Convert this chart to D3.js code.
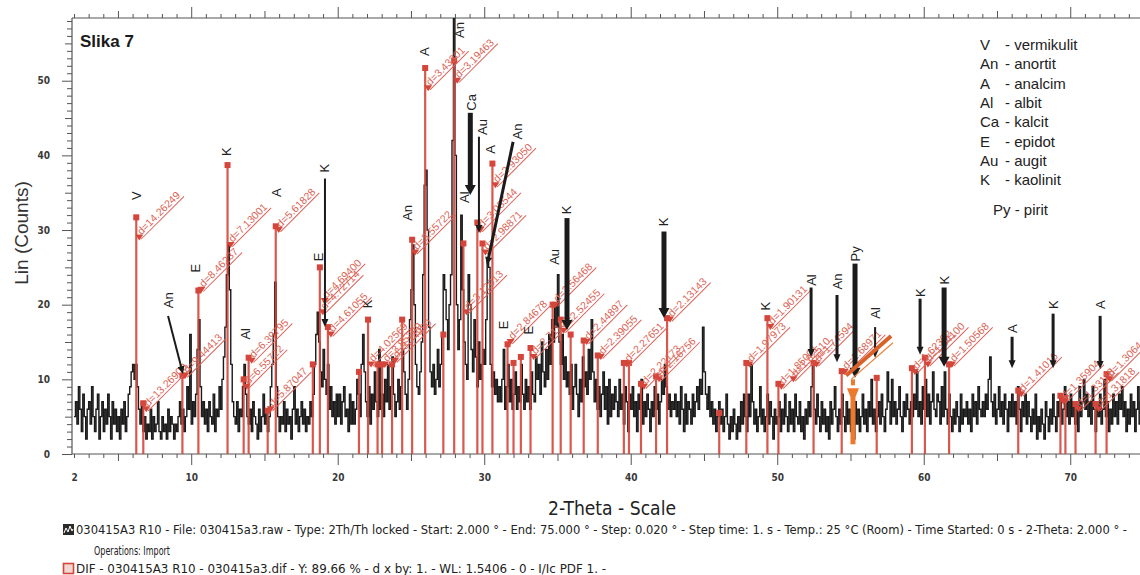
<!DOCTYPE html>
<html>
<head>
<meta charset="utf-8">
<style>
     body {
          margin: 0;
          background: #fff;
          font-family: "Liberation Sans", Arial, sans-serif;
     }
     .axis text {
          font-family: "Liberation Sans Narrow", "DejaVu Sans Condensed", sans-serif;
          font-size: 10px;
          font-weight: bold;
          fill: #3a3a3a;
     }
     .axis line {
          stroke: #555;
     }
     .axis .domain {
          display: none;
     }
     .frame {
          stroke: #555;
          stroke-width: 1.2;
     }
     .pattern {
          fill: none;
          stroke: #1a1a1a;
          stroke-width: 1.4;
     }
     .stick {
          stroke: #d4463b;
          stroke-width: 2.2;
     }
     .stick-top {
          fill: #d4463b;
     }
     .dtext {
          font-size: 10.5px;
          fill: #dc6456;
     }
     .dline {
          stroke: #dc6456;
          stroke-width: 1;
     }
     .anno {
          font-size: 13px;
          fill: #222;
     }
     .legend {
          font-size: 15px;
          fill: #222;
     }
     .caption {
          font-family: "Liberation Sans Narrow", "DejaVu Sans Condensed", sans-serif;
          font-size: 12px;
          fill: #222;
     }
</style>
</head>
<body>
<script src="https://d3js.org/d3.v7.min.js"></script>
<script>

     // measured pattern, 2-theta from 2.0 in steps of 0.1 degree
     var thetaStart = 2.0, thetaStep = 0.1;

     var counts02 = [5,7,4,9,6,3,8,5,2,6, 7,4,9,5,3,6,8,2,5,7, 3,6,4,8,5,2,7,4,6,3, 5,2,6,4,7,3,5,8,9,11,
                     12,10,12,9,6,4,7,3,5,2, 4,3,6,2,5,3,4,7,3,2, 5,3,4,2,6,3,5,4,2,4, 3,5,7,4,6,3,5,9,6,16];
     var counts10 = [4,7,5,8,14,18,9,5,7,4, 6,3,7,5,4,8,3,6,5,9, 6,10,13,17,24,28,22,12,7,5, 4,7,3,6,5,9,12,8,5,4,
                     6,3,7,5,4,2,6,3,5,8, 4,6,3,5,9,12,16,23,9,5, 3,5,4,7,3,6,4,5,2,6, 9,4,6,3,5,7,4,6,3,5,
                     4,7,5,8,12,16,19,15,11,9, 14,10,8,12,6,9,5,7,4,8];
     var counts20 = [5,8,4,7,9,5,6,3,8,4, 7,4,6,10,8,5,12,16,11,7, 5,9,4,8,6,11,7,5,14,6, 8,5,10,7,12,6,9,13,8,5,
                     7,10,6,9,14,11,8,6,10,18, 22,28,20,12,9,8,11,15,24,36, 38,30,17,11,9,12,8,10,14,9,
                     12,16,24,22,18,14,20,24,42,62, 40,20,14,18,32,22,15,12,10,24, 20,14,11,18,13,9,15,10,12,14];
     var counts30 = [12,18,26,25,12,9,11,8,10,7, 9,7,10,14,6,9,12,7,10,6, 8,11,6,9,7,12,8,6,10,7, 9,6,11,8,7,13,10,12,8,15,
                     11,9,14,10,16,12,18,15,20,17, 24,15,12,16,10,13,9,11,8,12, 6,9,12,8,5,10,7,13,9,11,
                     8,14,10,18,11,7,10,6,9,5, 8,11,6,9,4,10,5,8,6,9, 7,5,10,6,8,4,9,7,3,8];
     var counts40 = [6,9,5,7,3,8,6,10,4,7, 5,8,6,3,7,5,9,6,8,4, 7,10,8,12,9,6,8,5,7,6, 8,5,7,4,9,6,3,8,4,7,
                     6,4,8,5,7,9,6,10,8,17, 11,8,6,9,5,7,4,6,3,5, 7,4,6,3,5,8,4,2,5,3, 6,4,2,5,3,7,4,8,5,3,
                     8,5,12,7,4,6,3,5,9,4, 6,3,5,8,4,7,5,2,6,4];
     var counts50 = [5,7,3,6,4,8,5,3,7,4, 6,3,8,5,4,7,3,5,2,6, 4,7,5,9,12,6,4,8,5,3, 7,4,6,3,5,2,7,4,6,9,
                     5,3,6,4,8,5,3,7,4,6, 3,5,2,7,4,6,3,5,8,4, 6,3,7,5,10,4,6,3,5,7, 4,8,5,3,6,11,7,4,10,5,
                     7,4,6,9,5,3,7,5,8,6, 4,7,5,8,6,11,5,7,4,9];
     var counts60 = [6,10,5,8,4,7,11,6,5,8, 7,4,9,5,11,6,4,8,5,3, 6,4,7,5,3,8,4,6,5,7, 4,6,3,8,5,7,4,9,6,5,
                     7,5,8,6,10,13,7,5,8,4, 6,9,5,7,4,8,6,3,7,5, 8,5,7,4,9,6,3,7,5,8, 4,7,5,3,6,4,8,2,5,3,
                     6,4,2,7,5,3,6,4,8,5, 3,7,5,8,4,6,9,5,7,4];
     var counts70 = [8,5,7,4,6,3,9,5,7,10, 6,8,5,7,4,9,6,3,7,5, 8,4,6,10,5,7,3,6,4,8, 5,7,4,8,6,9,5,7,3,6,
                     4,8,5,7,3,6,9,4,7,5, 6];

     // reference (DIF) sticks: 2-theta and counts
     var stickTheta  = [6.25, 6.73, 9.40, 10.49, 12.48, 13.58, 13.92, 15.22, 15.77, 18.30, 18.78, 19.33, 21.45, 22.07, 22.72, 23.03, 23.71,
                        24.40, 25.08, 25.97, 27.21, 27.95, 28.58, 29.53, 29.88, 30.56, 31.59, 32.00, 32.50, 33.16, 34.67, 35.22, 35.90,
                        36.79, 37.75, 39.53, 39.88, 40.70, 41.73, 42.48, 46.04, 47.89, 49.33, 50.08, 52.48, 54.40, 56.79, 59.19, 60.08,
                        61.73, 66.45, 69.33, 69.67, 70.36, 71.73, 72.48];
     var stickHeight = [31.7, 6.8, 10.5, 21.9, 38.7, 10.0, 12.9, 5.8, 30.5, 12.0, 25.0, 17.0, 11.0, 18.0, 12.0, 12.0, 12.0,
                        18.0, 28.7, 51.7, 16.0, 52.7, 28.2, 31.0, 28.2, 38.9, 14.7, 12.2, 13.0, 14.2, 20.0, 18.0, 16.0,
                        15.2, 13.2, 12.2, 12.2, 9.4, 10.4, 18.2, 5.5, 12.2, 18.2, 9.4, 12.2, 11.1, 10.2, 11.5, 12.9,
                        12.0, 8.5, 7.8, 7.5, 6.7, 6.7, 10.7];

     // d-spacing labels of the sticks
     var dTheta = [6.25, 6.73, 9.40, 10.49, 12.48, 13.58, 13.92, 15.22, 15.77, 18.78, 18.90, 19.33, 22.07, 23.03, 23.71, 25.08, 25.97,
                   27.95, 28.58, 29.53, 29.88, 30.56, 31.59, 33.16, 34.67, 35.22, 36.79, 37.75, 39.53, 40.70, 41.73, 42.48,
                   47.89, 49.33, 50.08, 50.90, 52.48, 54.40, 59.19, 60.08, 61.73, 66.45, 69.33, 70.36, 71.73, 72.48];
     var dAt    = [29, 6, 10.5, 22, 28, 9, 12.5, 6, 30, 19, 20.5, 16, 12, 12, 12.5, 27, 49,
                   50, 19, 30, 27, 36, 15, 13, 20, 16.5, 15, 13, 12, 9, 10, 18,
                   12, 17, 9, 10, 12, 11, 11, 12, 12, 8, 7, 6, 6, 10];
     var dText  = ["d=14.26249", "d=13.26900", "d=9.44413", "d=8.46237", "d=7.13001", "d=6.55722", "d=6.39795", "d=5.87047",
                   "d=5.61828", "d=4.72714", "d=4.69400", "d=4.61055", "d=4.02569", "d=3.85399", "d=3.74980", "d=3.55722",
                   "d=3.43301", "d=3.19463", "d=3.12013", "d=3.03544", "d=2.98871", "d=2.93050", "d=2.84678", "d=2.71101",
                   "d=2.56468", "d=2.52455", "d=2.44897", "d=2.39055", "d=2.27651", "d=2.22173", "d=2.16756", "d=2.13143",
                   "d=1.97973", "d=1.90131", "d=1.85001", "d=1.82510", "d=1.74594", "d=1.68971", "d=1.62302", "d=1.54100",
                   "d=1.50568", "d=1.41016", "d=1.35904", "d=1.33118", "d=1.31818", "d=1.30644"];

     // mineral marks: label position, arrow from / to (2-theta, counts), arrow weight
     var markText  = ["V","An","E","K","Al","A","K","E","K","An","A","An","Ca","Au","A","An",
                      "Al","E","E","Au","K","K","K","Al","An","Py","Al","K","K","A","K","A"];
     var markTheta = [6.25, 8.42, 10.26, 12.44, 13.74, 15.79, 19.13, 18.66, 22.00, 24.73, 25.89, 28.28, 29.10, 29.85, 30.46, 32.24,
                      28.62, 31.35, 32.99, 34.83, 35.65, 42.27, 49.17, 52.31, 54.08, 55.31, 56.68, 59.75, 61.39, 66.03, 68.83, 72.04];
     var markCount = [34.6, 20.6, 24.9, 40.5, 16.1, 35.0, 38.3, 26.4, 20.1, 32.3, 53.9, 56.8, 47.1, 43.8, 40.8, 43.2,
                      34.4, 17.3, 16.6, 26.4, 32.7, 31.1, 19.8, 23.3, 23.1, 26.8, 18.9, 21.6, 23.3, 16.8, 20.0, 20.0];
     var arrowFrom = [null, [8.42,18.5], null, null, null, null, [19.13,36.9], null, null, null, null, null, [29.05,45.7], [29.64,42.5], null, [31.97,41.8],
                      null, null, null, null, [35.65,31.6], [42.27,29.8], null, [52.31,22.3], [54.08,21.3], [55.31,25.5], [56.68,17.0], [59.75,20.8], [61.39,22.3], [66.03,15.7], [68.83,18.8], [72.04,18.5]];
     var arrowTo   = [null, [9.44,10.7], null, null, null, null, [19.13,17.0], null, null, null, null, null, [29.05,34.7], [29.64,29.6], null, [30.19,25.3],
                      null, null, null, null, [35.65,16.6], [42.27,18.2], null, [52.31,13.0], [54.08,12.3], [55.31,10.2], [56.68,12.9], [59.75,13.3], [61.39,11.7], [66.03,11.5], [68.83,11.5], [72.04,11.4]];
     var arrowWeight = ["", "thin", "", "", "", "", "thin", "", "", "", "", "", "thick", "thin", "", "mid",
                        "", "", "", "", "thick", "thick", "", "mid", "mid", "thick", "thin", "mid", "thick", "mid", "mid", "mid"];

     // hand-drawn pyrite mark
     var pyTheta = 55.17;
     var pySlash = [[54.70, 10.5], [57.77, 15.8]];
     var pySlashThin = [[55.04, 10.0], [57.90, 14.9]];

     var legendAbbr = ["V", "An", "A", "Al", "Ca", "E", "Au", "K"];
     var legendName = ["vermikulit", "anortit", "analcim", "albit", "kalcit", "epidot", "augit", "kaolinit"];

     var caption1 = "030415A3 R10 - File: 030415a3.raw - Type: 2Th/Th locked - Start: 2.000 ° - End: 75.000 ° - Step: 0.020 ° - Step time: 1. s - Temp.: 25 °C (Room) - Time Started: 0 s - 2-Theta: 2.000 ° -";
     var caption2 = "Operations: Import";
     var caption3 = "DIF - 030415A3 R10 - 030415a3.dif - Y: 89.66 % - d x by: 1. - WL: 1.5406 - 0 - I/Ic PDF 1. -";

     var counts = counts02.concat(counts10, counts20, counts30, counts40, counts50, counts60, counts70);
     var pattern = counts.map(function(c, i) { return {t: thetaStart + i * thetaStep, c: c}; });

     var plotLeft = 72, plotRight = 1140, plotTop = 18, plotBottom = 454;

     var x = d3.scaleLinear().domain([2, 75]).range([74, 1143.5]);
     var y = d3.scaleLinear().domain([0, 58.4]).range([plotBottom, plotTop]);

     var svg = d3.select("body").append("svg")
          .attr("width", 1140)
          .attr("height", 575);

     svg.append("clipPath").attr("id", "plot")
        .append("rect")
          .attr("x", plotLeft).attr("y", plotTop)
          .attr("width", plotRight - plotLeft).attr("height", plotBottom - plotTop);

     // axes
     var xTicks = d3.range(2, 76);

     var gx = svg.append("g")
          .attr("class", "x axis")
          .attr("transform", "translate(0," + plotBottom + ")")
          .call(d3.axisBottom(x).tickValues(xTicks).tickSizeOuter(0)
               .tickFormat(function(d) { return (d === 2 || d % 10 === 0) ? d : ""; }));
     gx.selectAll(".tick line").attr("y2", function(d) { return d % 10 === 0 ? 11 : (d % 5 === 0 ? 7 : 4); });
     gx.selectAll(".tick text").attr("y", 20);

     var gt = svg.append("g")
          .attr("class", "x axis")
          .attr("transform", "translate(0," + plotTop + ")")
          .call(d3.axisTop(x).tickValues(xTicks).tickSizeOuter(0).tickFormat(""));
     gt.selectAll(".tick line").attr("y2", function(d) { return d % 10 === 0 ? -11 : (d % 5 === 0 ? -7 : -4); });

     var gy = svg.append("g")
          .attr("class", "y axis")
          .attr("transform", "translate(" + plotLeft + ",0)")
          .call(d3.axisLeft(y).tickValues(d3.range(0, 59)).tickSizeOuter(0)
               .tickFormat(function(d) { return d % 10 === 0 ? d : ""; }));
     gy.selectAll(".tick line").attr("x2", function(d) { return d % 10 === 0 ? -10 : (d % 5 === 0 ? -7 : -5); });
     gy.selectAll(".tick text").attr("x", -22);

     svg.append("line").attr("class", "frame").attr("x1", plotLeft).attr("x2", plotLeft).attr("y1", plotTop).attr("y2", plotBottom);
     svg.append("line").attr("class", "frame").attr("x1", plotLeft).attr("x2", plotRight).attr("y1", plotBottom).attr("y2", plotBottom);
     svg.append("line").attr("class", "frame").attr("x1", plotLeft).attr("x2", plotRight).attr("y1", plotTop).attr("y2", plotTop);

     var plot = svg.append("g").attr("clip-path", "url(#plot)");

     // measured pattern
     var line = d3.line()
          .x(function(d) { return x(d.t); })
          .y(function(d) { return y(d.c); })
          .curve(d3.curveStepAfter);

     plot.append("path")
          .datum(pattern)
          .attr("class", "pattern")
          .attr("d", line);

     // reference sticks
     var sticks = stickTheta.map(function(t, i) { return {t: t, h: stickHeight[i]}; });

     plot.selectAll(".stick").data(sticks)
       .enter().append("line")
          .attr("class", "stick")
          .attr("opacity", 0.9)
          .attr("x1", function(d) { return x(d.t); })
          .attr("x2", function(d) { return x(d.t); })
          .attr("y1", y(0))
          .attr("y2", function(d) { return y(d.h); });

     plot.selectAll(".stick-top").data(sticks)
       .enter().append("rect")
          .attr("class", "stick-top")
          .attr("x", function(d) { return x(d.t) - 3; })
          .attr("y", function(d) { return y(d.h) - 3; })
          .attr("width", 6)
          .attr("height", 6);

     // d labels
     var dRows = dTheta.map(function(t, i) { return {t: t, c: dAt[i], s: dText[i]}; });

     var dl = plot.selectAll(".dlab").data(dRows)
       .enter().append("g")
          .attr("class", "dlab")
          .attr("transform", function(d) { return "translate(" + (x(d.t) + 3) + "," + y(d.c) + ") rotate(-45)"; });

     dl.append("path")
          .attr("d", "M-4,-3L4,-3L0,3Z")
          .attr("transform", "rotate(45)")
          .attr("fill", "#d4463b");

     dl.append("text")
          .attr("class", "dtext")
          .attr("x", 3)
          .text(function(d) { return d.s; });

     dl.each(function() {
          var g = d3.select(this);
          var len = g.select("text").node().getComputedTextLength();
          g.append("line").attr("class", "dline")
               .attr("x1", 0).attr("x2", len + 5)
               .attr("y1", 2.5).attr("y2", 2.5);
     });

     // mineral marks
     var marks = markText.map(function(s, i) {
          return {s: s, t: markTheta[i], c: markCount[i], from: arrowFrom[i], to: arrowTo[i], w: arrowWeight[i]};
     });

     svg.selectAll(".anno").data(marks)
       .enter().append("text")
          .attr("class", "anno")
          .attr("text-anchor", "middle")
          .attr("dominant-baseline", "central")
          .attr("transform", function(d) { return "translate(" + x(d.t) + "," + y(d.c) + ") rotate(-90)"; })
          .text(function(d) { return d.s; });

     var widths = {thin: 2, mid: 3, thick: 5};

     marks.filter(function(d) { return d.from; }).forEach(function(d) {
          var x0 = x(d.from[0]), y0 = y(d.from[1]), x1 = x(d.to[0]), y1 = y(d.to[1]);
          var w = widths[d.w];
          var head = w > 3 ? 10 : 8, hw = w > 3 ? 11 : 7;
          var len = Math.sqrt((x1 - x0) * (x1 - x0) + (y1 - y0) * (y1 - y0));
          var ux = (x1 - x0) / len, uy = (y1 - y0) / len;
          var bx = x1 - ux * head, by = y1 - uy * head;
          svg.append("line")
               .attr("x1", x0).attr("y1", y0)
               .attr("x2", bx + ux).attr("y2", by + uy)
               .attr("stroke", "#1b1b1b")
               .attr("stroke-width", w);
          svg.append("polygon")
               .attr("points", [[x1, y1], [bx - uy * hw / 2, by + ux * hw / 2], [bx + uy * hw / 2, by - ux * hw / 2]].join(" "))
               .attr("fill", "#1b1b1b");
     });

     // pyrite mark (orange)
     var pyX = x(pyTheta);
     svg.append("rect").attr("x", pyX - 2.5).attr("y", y(7.6)).attr("width", 5).attr("height", y(1.3) - y(7.6)).attr("fill", "#ec7a2e");
     svg.append("path")
          .attr("d", "M" + (pyX - 6) + "," + y(8.8) + "L" + (pyX + 6) + "," + y(8.8) + "L" + pyX + "," + y(6.8) + "Z")
          .attr("fill", "#ec7a2e");
     svg.append("rect").attr("x", pyX - 2).attr("y", y(10)).attr("width", 4).attr("height", y(9.2) - y(10)).attr("fill", "#ec7a2e");
     svg.append("line")
          .attr("x1", x(pySlash[0][0])).attr("y1", y(pySlash[0][1]))
          .attr("x2", x(pySlash[1][0])).attr("y2", y(pySlash[1][1]))
          .attr("stroke", "#d8622a").attr("stroke-width", 4);
     svg.append("line")
          .attr("x1", x(pySlashThin[0][0])).attr("y1", y(pySlashThin[0][1]))
          .attr("x2", x(pySlashThin[1][0])).attr("y2", y(pySlashThin[1][1]))
          .attr("stroke", "#e8823e").attr("stroke-width", 1.2);

     // title and axis titles
     svg.append("text")
          .attr("x", 80).attr("y", 47)
          .attr("font-size", "17px").attr("font-weight", "bold").attr("fill", "#1a1a1a")
          .text("Slika 7");

     svg.append("text")
          .attr("transform", "translate(28,233) rotate(-90)")
          .attr("text-anchor", "middle")
          .attr("font-size", "19px").attr("fill", "#333")
          .text("Lin (Counts)");

     svg.append("text")
          .attr("x", 548).attr("y", 515)
          .attr("textLength", 128).attr("lengthAdjust", "spacingAndGlyphs")
          .attr("font-family", "\"Liberation Sans Narrow\", \"DejaVu Sans Condensed\", sans-serif")
          .attr("font-size", "20px").attr("fill", "#222")
          .text("2-Theta - Scale");

     // legend
     var lg = svg.selectAll(".lg").data(legendAbbr)
       .enter().append("g")
          .attr("transform", function(d, i) { return "translate(980," + (50 + i * 19.3) + ")"; });
     lg.append("text").attr("class", "legend").text(function(d) { return d; });
     lg.append("text").attr("class", "legend").attr("x", 25)
          .text(function(d, i) { return "- " + legendName[i]; });
     svg.append("text").attr("class", "legend").attr("x", 993).attr("y", 215).text("Py - pirit");

     // file captions
     var icon = svg.append("g").attr("transform", "translate(63,524)");
     icon.append("rect").attr("width", 11).attr("height", 11).attr("fill", "#2a2a2a");
     icon.append("path").attr("d", "M1,9L3,4L5,8L7,2L9,7L10,5").attr("fill", "none").attr("stroke", "#fff").attr("stroke-width", 1);

     svg.append("rect").attr("x", 63.5).attr("y", 563.5).attr("width", 10).attr("height", 10)
          .attr("fill", "#f3d7d2").attr("stroke", "#d4463b").attr("stroke-width", 1.6);

     svg.append("text").attr("class", "caption").attr("x", 76).attr("y", 534)
          .attr("textLength", 1051).attr("lengthAdjust", "spacingAndGlyphs")
          .text(caption1);
     svg.append("text").attr("class", "caption").attr("x", 94).attr("y", 555)
          .attr("textLength", 76).attr("lengthAdjust", "spacingAndGlyphs")
          .text(caption2);
     svg.append("text").attr("class", "caption").attr("x", 76).attr("y", 573)
          .attr("textLength", 530).attr("lengthAdjust", "spacingAndGlyphs")
          .text(caption3);

</script>
</body>
</html>
